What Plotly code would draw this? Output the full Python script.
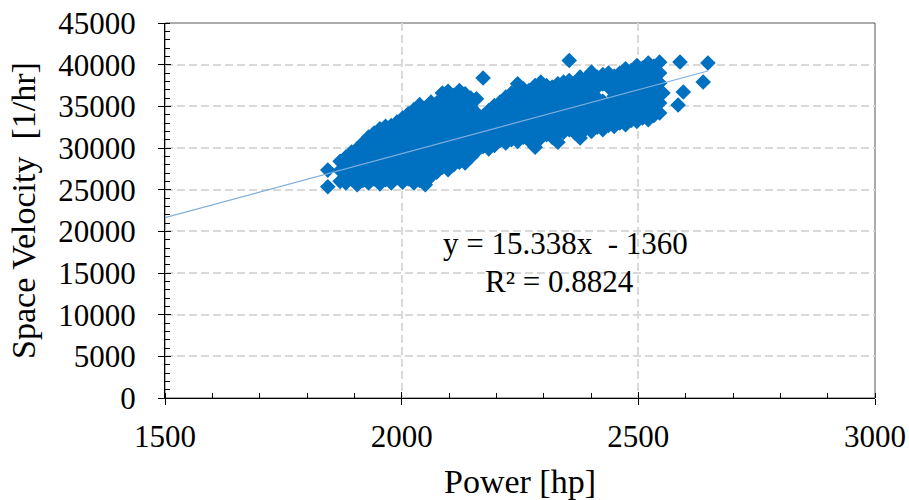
import plotly.graph_objects as go

# Power [hp] columns and the Space Velocity [1/hr] values read at each column
power_columns = [
    1844, 1870, 1882, 1894, 1906, 1918, 1930, 1942, 1954, 1966, 1978, 1990,
    2002, 2014, 2026, 2038, 2050, 2062, 2074, 2086, 2098, 2110, 2122, 2134,
    2146, 2158, 2172, 2184, 2196, 2208, 2220, 2232, 2245, 2257, 2269, 2282,
    2294, 2306, 2318, 2330, 2342, 2354, 2366, 2377, 2389, 2401, 2413, 2425,
    2437, 2449, 2461, 2473, 2485, 2497, 2509, 2521, 2533, 2545,
]
velocity_columns = [
    [27350, 25350],
    [26000, 27300, 28400],
    [25800, 26700, 27800, 28900],
    [26300, 27400, 28300, 29500],
    [25600, 26600, 27800, 28800, 29900],
    [26100, 27200, 28400, 29500, 30600],
    [25800, 26800, 27900, 29100, 30200, 31300],
    [26300, 27400, 28600, 29800, 30900, 31800],
    [25700, 26800, 28000, 29200, 30400, 31500, 32300],
    [26200, 27300, 28500, 29600, 30800, 31900, 32600],
    [25800, 26900, 28100, 29300, 30500, 31600, 32700],
    [26400, 27500, 28700, 29900, 31000, 32100, 33100],
    [25900, 27000, 28200, 29400, 30600, 31700, 32800, 33600],
    [26300, 27500, 28700, 29900, 31100, 32200, 33300, 34100],
    [25800, 26900, 28100, 29300, 30500, 31700, 32800, 33900, 34600],
    [26100, 27300, 28500, 29700, 30900, 32000, 33100, 34300, 35200],
    [25600, 26700, 27900, 29100, 30300, 31400, 32600, 33800, 34800],
    [26600, 27800, 29000, 30200, 31300, 32500, 33700, 34900, 35500],
    [27100, 28300, 29500, 30700, 31900, 33000, 34200, 35400],
    [27700, 28800, 30000, 31200, 32400, 33600, 34800, 35900, 36600],
    [27400, 28600, 29800, 31000, 32200, 33400, 34600, 35800, 36800],
    [28000, 29200, 30400, 31600, 32800, 34000, 35200, 36300],
    [28300, 29500, 30700, 31900, 33100, 34300, 35500, 36900],
    [28200, 29400, 30600, 31800, 33000, 34200, 35400, 36500],
    [28900, 30100, 31300, 32500, 33700, 34900, 36000],
    [29600, 30800, 32000, 33200, 34200, 35900],
    [30200, 31400, 32600, 33800, 38400],
    [29900, 31100, 32300, 33500, 34500],
    [30300, 31500, 32700, 33900, 35100],
    [30900, 32000, 33200, 34400, 35500],
    [30600, 31700, 32900, 34100, 35300, 36100],
    [31000, 32100, 33300, 34500, 35700, 36600],
    [30800, 31900, 33100, 34300, 35500, 36700, 37700],
    [31300, 32400, 33600, 34800, 36000, 37100],
    [30900, 32100, 33300, 34500, 35700, 36900],
    [30100, 31500, 32700, 33900, 35100, 36300, 37500],
    [31200, 32300, 33500, 34700, 35900, 37100, 37900],
    [31600, 32800, 34000, 35200, 36400, 37500],
    [31300, 32500, 33700, 34900, 36100, 37300],
    [30700, 31800, 33000, 34200, 35400, 36600, 37700],
    [31900, 33100, 34300, 35500, 36700, 37900],
    [32200, 33400, 34600, 35800, 37000, 38100, 40500],
    [31800, 33000, 34200, 35400, 36600, 37700],
    [31200, 32500, 33700, 34900, 36100, 37300, 38500],
    [32300, 33500, 34700, 35900, 37100, 38300],
    [32000, 33200, 34400, 35600, 36800, 38000, 39100],
    [32500, 33700, 34900, 36000, 37300, 38500],
    [32200, 33400, 34600, 35600, 37700, 38800],
    [32700, 33900, 35100, 37300, 38300, 39000],
    [32600, 33800, 35000, 36200, 37400, 38600],
    [33000, 34200, 35400, 36600, 37800, 39000],
    [32800, 34000, 35200, 36400, 37600, 38800, 39500],
    [33300, 34500, 35700, 36900, 38100, 39300],
    [33200, 34400, 35600, 36800, 38000, 39200, 39900],
    [33600, 34800, 36000, 37200, 38400, 39600],
    [33400, 34600, 35800, 37000, 38200, 39400, 40200],
    [33900, 35100, 36300, 37500, 38700, 39800],
    [34200, 35400, 36600, 37800, 39000, 40300],
]
# isolated points to the right of the main cloud
outlier_power = [2552, 2584, 2595, 2588, 2637, 2647]
outlier_velocity = [36600, 35160, 36720, 40320, 37920, 40200]

power = [p for p, col in zip(power_columns, velocity_columns) for _ in col] + outlier_power
space_velocity = [v for col in velocity_columns for v in col] + outlier_velocity

# Linear trendline as printed on the chart
slope = 15.338
intercept = -1360
r_squared = 0.8824
trend_x = [1500, max(power)]
trend_y = [slope * v + intercept for v in trend_x]

x_ticks = [1500, 2000, 2500, 3000]
y_ticks = [0, 5000, 10000, 15000, 20000, 25000, 30000, 35000, 40000, 45000]

FONT = "Liberation Serif, Times New Roman, serif"
GRID = "#d9d9d9"

fig = go.Figure()
fig.add_trace(go.Scatter(
    x=power, y=space_velocity, mode="markers",
    marker=dict(symbol="diamond", size=12, color="#0070C0", line=dict(width=0)),
    showlegend=False, hoverinfo="skip",
))
fig.add_trace(go.Scatter(
    x=trend_x, y=trend_y, mode="lines",
    line=dict(color="#7FAEDD", width=1.2),
    showlegend=False, hoverinfo="skip",
))
# helper trace so the overlay axes (inner half of the cross ticks) are drawn
fig.add_trace(go.Scatter(x=[None], y=[None], xaxis="x2", yaxis="y2",
                         showlegend=False, hoverinfo="skip"))

axis_common = dict(
    showline=True, linecolor="black", linewidth=1, automargin=False,
    ticks="outside", ticklen=6, tickcolor="black", tickwidth=1,
    showgrid=True, gridcolor=GRID, gridwidth=1.5, griddash="8px,4px",
    zeroline=False, tickfont=dict(family=FONT, size=31, color="black"),
)

fig.update_layout(
    width=909, height=500,
    margin=dict(l=165, r=34, t=23, b=102),
    paper_bgcolor="white", plot_bgcolor="white",
    xaxis=dict(
        range=[1500, 3000], tickvals=x_ticks, ticktext=[str(v) for v in x_ticks],
        minor=dict(dtick=100, ticks="inside", ticklen=5, tickcolor="black", showgrid=False),
        ticklabelstandoff=5,
        title=dict(text="Power [hp]", font=dict(family=FONT, size=34, color="black"), standoff=16),
        **axis_common,
    ),
    yaxis=dict(
        range=[0, 45000], tickvals=y_ticks, ticktext=[str(v) for v in y_ticks],
        minor=dict(dtick=1000, ticks="inside", ticklen=5, tickcolor="black", showgrid=False),
        ticklabelstandoff=16,
        title=dict(text="Space Velocity  [1/hr]", font=dict(family=FONT, size=34, color="black"), standoff=12),
        **axis_common,
    ),
    xaxis2=dict(overlaying="x", anchor="y2", range=[1500, 3000], tickvals=x_ticks,
                showticklabels=False, ticks="inside", ticklen=6, tickcolor="black",
                showgrid=False, showline=False, zeroline=False, automargin=False),
    yaxis2=dict(overlaying="y", anchor="x2", range=[0, 45000], tickvals=y_ticks,
                showticklabels=False, ticks="inside", ticklen=6, tickcolor="black",
                showgrid=False, showline=False, zeroline=False, automargin=False),
    shapes=[dict(type="rect", xref="paper", yref="paper", x0=0, x1=1, y0=0, y1=1,
                 line=dict(color="#595959", width=1), layer="below")],
    annotations=[
        dict(x=2347, y=18600, xref="x", yref="y", showarrow=False,
             text=f"y = {slope}x  - {abs(intercept)}",
             font=dict(family=FONT, size=31, color="black")),
        dict(x=2334, y=14000, xref="x", yref="y", showarrow=False,
             text=f"R² = {r_squared}",
             font=dict(family=FONT, size=31, color="black")),
    ],
)

fig.write_html("out.html")
